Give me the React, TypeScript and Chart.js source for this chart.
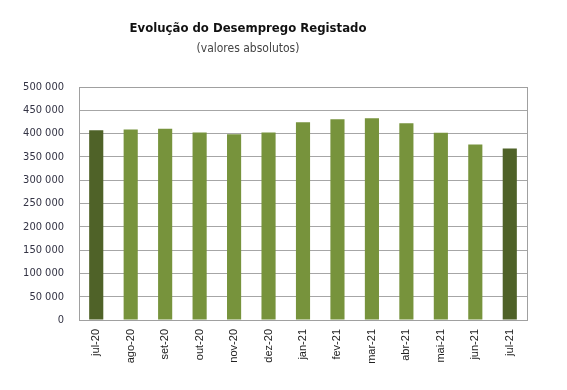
import React, { useEffect, useRef } from "react";
import { Chart, registerables } from "chart.js";

Chart.register(...registerables);

const categories = ["jul-20", "ago-20", "set-20", "out-20", "nov-20", "dez-20", "jan-21", "fev-21", "mar-21", "abr-21", "mai-21", "jun-21", "jul-21"];
const values = [407302, 408934, 410500, 402320, 398750, 402254, 424270, 431035, 432854, 422000, 401700, 376400, 368000];
const barColors = ["#4F6228", "#77933C", "#77933C", "#77933C", "#77933C", "#77933C", "#77933C", "#77933C", "#77933C", "#77933C", "#77933C", "#77933C", "#4F6228"];
const title = "Evolução do Desemprego Registado";
const subtitle = "(valores absolutos)";

const condensed = "'DejaVu Sans Condensed', 'Liberation Sans Narrow', 'DejaVu Sans', sans-serif";

const fmt = (v: number) => {
  const s = Math.round(v).toString();
  return s.replace(/\B(?=(\d{3})+(?!\d))/g, " ");
};

export default function App() {
  const ref = useRef<HTMLCanvasElement>(null);
  useEffect(() => {
    if (!ref.current) return;
    const titlePlugin = {
      id: "titles",
      afterDraw(chart: any) {
        const ctx = chart.ctx;
        ctx.save();
        ctx.textAlign = "center";
        ctx.textBaseline = "middle";
        ctx.fillStyle = "#111111";
        ctx.font = `bold 13px ${condensed}`;
        ctx.fillText(title, 240, 21);
        ctx.fillStyle = "#444444";
        ctx.font = `12px ${condensed}`;
        ctx.fillText(subtitle, 240, 41);
        const a = chart.chartArea;
        ctx.strokeStyle = "#a0a0a0";
        ctx.lineWidth = 1;
        ctx.strokeRect(Math.round(a.left) + 0.5, Math.round(a.top) + 0.5, Math.round(a.right - a.left), Math.round(a.bottom - a.top));
        ctx.restore();
      },
    };
    const chart = new Chart(ref.current, {
      type: "bar",
      data: {
        labels: categories,
        datasets: [
          {
            data: values,
            backgroundColor: barColors,
            borderWidth: 0,
            barPercentage: 0.41,
            categoryPercentage: 1,
          },
        ],
      },
      options: {
        animation: false,
        responsive: false,
        layout: { padding: { top: 79, right: 32, left: 0, bottom: 0 } },
        plugins: { legend: { display: false }, tooltip: { enabled: false }, title: { display: false } },
        scales: {
          x: {
            grid: { display: false },
            border: { color: "#a0a0a0" },
            ticks: {
              minRotation: 90,
              maxRotation: 90,
              color: "#222222",
              padding: 1,
              font: { family: "'Liberation Sans', Arial, sans-serif", size: 11 },
            },
            afterFit: (s: any) => {
              s.height = 62;
            },
          },
          y: {
            min: 0,
            max: 500000,
            ticks: {
              stepSize: 50000,
              color: "#333344",
              padding: 15,
              font: { family: condensed, size: 11 },
              callback: (v: any) => fmt(Number(v)),
            },
            grid: { color: "#a6a6a6", lineWidth: 1, drawTicks: false },
            border: { color: "#a0a0a0" },
            afterFit: (s: any) => {
              s.width = 71;
            },
          },
        },
      },
      plugins: [titlePlugin],
    });
    return () => chart.destroy();
  }, []);
  return (
    <div style={{ width: 551, height: 374 }}>
      <canvas ref={ref} width={551} height={374} style={{ width: 551, height: 374 }} />
    </div>
  );
}
